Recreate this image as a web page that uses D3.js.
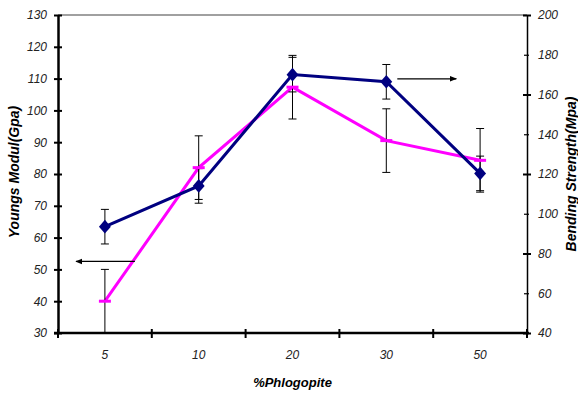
<!DOCTYPE html>
<html>
<head>
<meta charset="utf-8">
<script src="https://cdn.jsdelivr.net/npm/d3@7/dist/d3.min.js"></script>
<style>
  html, body { margin: 0; padding: 0; background: #fff; }
  svg { display: block; font-family: Arial, "Liberation Sans", sans-serif; }
</style>
</head>
<body>
<svg id="chart" width="578" height="394"></svg>
<script>
// ---- data ----
const categories = ["5", "10", "20", "30", "50"];
const youngsModulus = [40, 82, 107.3, 90.5, 84.3];      // left axis (GPa), magenta
const youngsError = [10, 10, 10, 10, 10];
const bendingStrength = [93.5, 114, 170, 166.4, 120.3]; // right axis (MPa), navy
const bendingError = [8.7, 8.7, 8.7, 8.7, 8.7];
const leftTicks = [30, 40, 50, 60, 70, 80, 90, 100, 110, 120, 130];
const rightTicks = [40, 60, 80, 100, 120, 140, 160, 180, 200];

const svg = d3.select("#chart");
const m = { left: 58, right: 527, top: 15, bottom: 333 };

const x = d3.scaleBand().domain(categories).range([m.left, m.right]).padding(0);
const yL = d3.scaleLinear().domain([30, 130]).range([m.bottom, m.top]);
const yR = d3.scaleLinear().domain([40, 200]).range([m.bottom, m.top]);
const cx = c => x(c) + x.bandwidth() / 2;

// top gray border
svg.append("line").attr("x1", m.left).attr("x2", m.right)
  .attr("y1", m.top).attr("y2", m.top).attr("stroke", "#a0a0a0").attr("stroke-width", 2);

// ---- lines ----
const pinkLine = d3.line().x((d, i) => cx(categories[i])).y(d => yL(d));
const blueLine = d3.line().x((d, i) => cx(categories[i])).y(d => yR(d));

svg.append("path").datum(youngsModulus).attr("d", pinkLine)
  .attr("fill", "none").attr("stroke", "#ff00ff").attr("stroke-width", 3);

// error bars
function errBars(vals, errs, y) {
  const g = svg.append("g").attr("stroke", "#000").attr("stroke-width", 1);
  vals.forEach((v, i) => {
    const xc = cx(categories[i]);
    const top = y(v + errs[i]), bot = Math.min(y(v - errs[i]), m.bottom);
    g.append("line").attr("x1", xc).attr("x2", xc).attr("y1", top).attr("y2", bot);
    g.append("line").attr("x1", xc - 4).attr("x2", xc + 4).attr("y1", top).attr("y2", top);
    if (y(v - errs[i]) <= m.bottom)
      g.append("line").attr("x1", xc - 4).attr("x2", xc + 4).attr("y1", bot).attr("y2", bot);
  });
}
errBars(youngsModulus, youngsError, yL);
errBars(bendingStrength, bendingError, yR);

// pink dash markers
svg.append("g").selectAll("line").data(youngsModulus).join("line")
  .attr("x1", (d, i) => cx(categories[i]) - 6).attr("x2", (d, i) => cx(categories[i]) + 6)
  .attr("y1", d => yL(d)).attr("y2", d => yL(d))
  .attr("stroke", "#ff00ff").attr("stroke-width", 3);

svg.append("path").datum(bendingStrength).attr("d", blueLine)
  .attr("fill", "none").attr("stroke", "#000080").attr("stroke-width", 3);

// diamonds
svg.append("g").selectAll("path").data(bendingStrength).join("path")
  .attr("d", d3.symbol(d3.symbolDiamond2, 90))
  .attr("transform", (d, i) => `translate(${cx(categories[i])},${yR(d)}) scale(1,1.15)`)
  .attr("fill", "#000080");

// ---- axes ----
function styleAxis(g, width) {
  g.select(".domain").attr("stroke", "#000").attr("stroke-width", width);
  g.selectAll("text").attr("font-size", "12px").attr("font-style", "italic")
    .attr("fill", "#222").attr("font-family", "Arial, 'Liberation Sans', sans-serif");
}

const gL = svg.append("g").attr("transform", `translate(${m.left},0)`)
  .call(d3.axisLeft(yL).tickValues(leftTicks).tickSize(4).tickPadding(7).tickSizeOuter(0));
gL.selectAll(".tick line").attr("x2", -4).attr("x1", 4).attr("stroke-width", 2);
styleAxis(gL, 2.5);

const gR = svg.append("g").attr("transform", `translate(${m.right},0)`)
  .call(d3.axisRight(yR).tickValues(rightTicks).tickSize(4).tickPadding(7).tickSizeOuter(0));
gR.selectAll(".tick line")
  .attr("x1", d => (d % 40 === 0 ? -4 : -3)).attr("x2", d => (d % 40 === 0 ? 4 : 2))
  .attr("stroke-width", d => (d % 40 === 0 ? 2 : 1.2));
styleAxis(gR, 1.5);

const gB = svg.append("g").attr("transform", `translate(0,${m.bottom})`)
  .call(d3.axisBottom(x).tickSize(0).tickPadding(17).tickSizeOuter(0));
styleAxis(gB, 2.5);
gB.select(".domain").attr("d", `M${m.left - 4},0H${m.right + 2}`);
// tick marks at category boundaries
const bounds = categories.map(c => x(c)).concat([m.right]);
gB.append("g").selectAll("line").data(bounds).join("line")
  .attr("x1", d => d).attr("x2", d => d).attr("y1", -4).attr("y2", 5)
  .attr("stroke", "#000").attr("stroke-width", 2);

// ---- titles ----
const midY = (m.top + m.bottom) / 2;
svg.append("text").text("Youngs Modul(Gpa)")
  .attr("transform", `translate(19,${midY - 2}) rotate(-90)`)
  .attr("text-anchor", "middle").attr("font-size", "14px").attr("font-weight", "bold")
  .attr("font-style", "italic").attr("fill", "#000");
svg.append("text").text("Bending Strength(Mpa)")
  .attr("transform", `translate(576,${midY}) rotate(-90)`)
  .attr("text-anchor", "middle").attr("font-size", "14px").attr("font-weight", "bold")
  .attr("font-style", "italic").attr("fill", "#000");
svg.append("text").text("%Phlogopite")
  .attr("x", (m.left + m.right) / 2).attr("y", 387)
  .attr("text-anchor", "middle").attr("font-size", "13px").attr("font-weight", "bold")
  .attr("font-style", "italic").attr("fill", "#000");

// ---- arrows ----
const defs = svg.append("defs");
defs.append("marker").attr("id", "ah").attr("viewBox", "0 0 10 10")
  .attr("refX", 9).attr("refY", 5).attr("markerWidth", 7).attr("markerHeight", 7)
  .attr("orient", "auto-start-reverse").attr("markerUnits", "userSpaceOnUse")
  .append("path").attr("d", "M0,1L10,5L0,9Z").attr("fill", "#000");

svg.append("line")
  .attr("x1", cx("5") + 30).attr("x2", m.left + 18)
  .attr("y1", yL(52.5)).attr("y2", yL(52.5))
  .attr("stroke", "#000").attr("stroke-width", 1.2).attr("marker-end", "url(#ah)");
svg.append("line")
  .attr("x1", cx("30") + 11).attr("x2", cx("30") + 70)
  .attr("y1", yR(167.9)).attr("y2", yR(167.9))
  .attr("stroke", "#000").attr("stroke-width", 1.2).attr("marker-end", "url(#ah)");
</script>
</body>
</html>
